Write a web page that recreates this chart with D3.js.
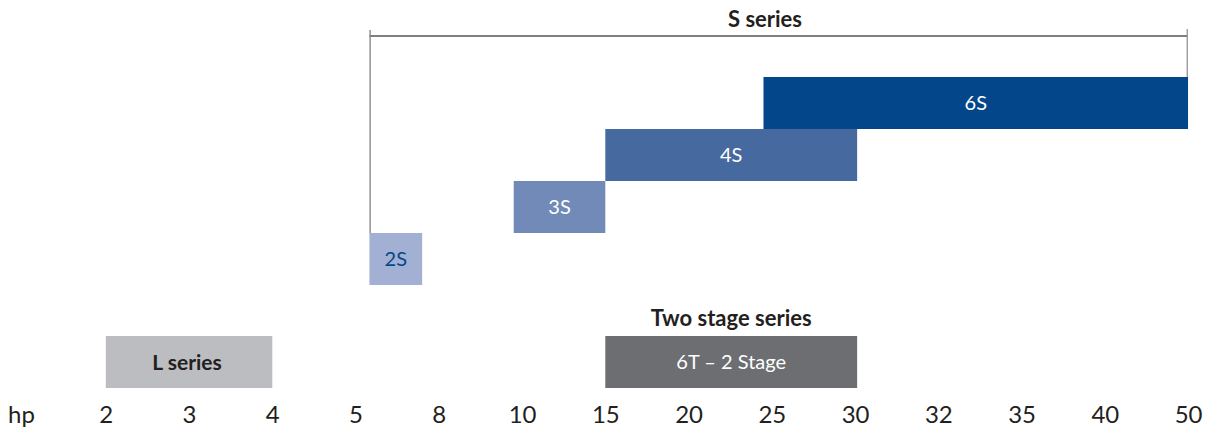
<!DOCTYPE html>
<html>
<head>
<meta charset="utf-8">
<script src="https://cdn.jsdelivr.net/npm/d3@7"></script>
<style>
  html, body { margin: 0; padding: 0; background: #fff; }
  svg { display: block; font-family: Lato, "Open Sans", sans-serif; }
</style>
</head>
<body>
<svg id="chart" width="1210" height="430"></svg>
<script>
// ---- data ----
const tickValues = [2, 3, 4, 5, 8, 10, 15, 20, 25, 30, 32, 35, 40, 50];
const axisUnit = "hp";

const sSeriesNames = ["6S", "4S", "3S", "2S"];
const sSeriesStart = [24.5, 15, 9.8, 5.5];
const sSeriesEnd   = [50, 30.05, 15, 7.4];
const sSeriesColors = ["#03478a", "#466aa0", "#718ab8", "#a2b1d3"];
const sSeriesTextColors = ["#ffffff", "#ffffff", "#ffffff", "#03478a"];

const sBracketTitle = "S series";
const sBracketRange = [5.5, 49.9];

const lowerNames = ["L series", "6T – 2 Stage"];
const lowerStart = [2, 15];
const lowerEnd = [4, 30.05];
const lowerColors = ["#bcbdc0", "#6d6e71"];
const lowerTextColors = ["#231f20", "#ffffff"];
const lowerBold = [true, false];
const lowerTitles = ["", "Two stage series"];

// ---- scales ----
const svg = d3.select("#chart");
const x0 = 105.8, step = 83.25;
const x = d3.scaleLinear()
  .domain(tickValues)
  .range(tickValues.map((d, i) => x0 + i * step));

const yRows = d3.scaleBand().domain(sSeriesNames).range([77, 285]).padding(0);
const yLower = 336, lowerH = 52;

// ---- S series bracket ----
const bracket = svg.append("g");
const bY = 36;
bracket.append("line")
  .attr("x1", x(sBracketRange[0])).attr("x2", x(sBracketRange[1]))
  .attr("y1", bY).attr("y2", bY)
  .attr("stroke", "#555558").attr("stroke-width", 1.3);
bracket.append("line")
  .attr("x1", x(sBracketRange[0]) + 0.7).attr("x2", x(sBracketRange[0]) + 0.7)
  .attr("y1", 30).attr("y2", yRows("2S"))
  .attr("stroke", "#8a8a8c").attr("stroke-width", 1.4);
bracket.append("line")
  .attr("x1", x(sBracketRange[1])).attr("x2", x(sBracketRange[1]))
  .attr("y1", 29).attr("y2", yRows("6S"))
  .attr("stroke", "#8a8a8c").attr("stroke-width", 1.2);
bracket.append("text")
  .attr("x", 765).attr("y", 27)
  .attr("text-anchor", "middle")
  .attr("font-size", 22).attr("font-weight", "bold")
  .attr("fill", "#231f20")
  .text(sBracketTitle);

// ---- S series bars ----
const sData = sSeriesNames.map((n, i) => ({
  name: n, start: sSeriesStart[i], end: sSeriesEnd[i],
  color: sSeriesColors[i], text: sSeriesTextColors[i]
}));
const sg = svg.append("g").selectAll("g").data(sData).join("g");
sg.append("rect")
  .attr("x", d => x(d.start))
  .attr("y", d => yRows(d.name))
  .attr("width", d => x(d.end) - x(d.start))
  .attr("height", yRows.bandwidth())
  .attr("fill", d => d.color);
sg.append("text")
  .attr("x", d => (x(d.start) + x(d.end)) / 2)
  .attr("y", d => yRows(d.name) + yRows.bandwidth() / 2)
  .attr("dy", "0.36em")
  .attr("text-anchor", "middle")
  .attr("font-size", 20)
  .attr("fill", d => d.text)
  .text(d => d.name);

// ---- lower bars ----
const lData = lowerNames.map((n, i) => ({
  name: n, start: lowerStart[i], end: lowerEnd[i], color: lowerColors[i],
  text: lowerTextColors[i], bold: lowerBold[i], title: lowerTitles[i]
}));
const lg = svg.append("g").selectAll("g").data(lData).join("g");
lg.append("rect")
  .attr("x", d => x(d.start))
  .attr("y", yLower)
  .attr("width", d => x(d.end) - x(d.start))
  .attr("height", lowerH)
  .attr("fill", d => d.color);
lg.append("text")
  .attr("x", d => (x(d.start) + x(d.end)) / 2 - (d.bold ? 2 : 0))
  .attr("y", yLower + lowerH / 2)
  .attr("dy", "0.36em")
  .attr("text-anchor", "middle")
  .attr("font-size", d => d.bold ? 21 : 20)
  .attr("font-weight", d => d.bold ? "bold" : "normal")
  .attr("fill", d => d.text)
  .text(d => d.name);
lg.filter(d => d.title).append("text")
  .attr("x", d => (x(d.start) + x(d.end)) / 2)
  .attr("y", 326)
  .attr("text-anchor", "middle")
  .attr("font-size", 22).attr("font-weight", "bold")
  .attr("fill", "#231f20")
  .text(d => d.title);

// ---- axis ----
const axis = d3.axisBottom(x).tickValues(tickValues).tickSize(0).tickPadding(0)
  .tickFormat(d3.format("d"));
const ag = svg.append("g").attr("transform", "translate(0,404)").call(axis);
ag.select(".domain").remove();
ag.selectAll("text")
  .attr("font-size", 24).attr("font-family", "Lato, 'Open Sans', sans-serif")
  .attr("fill", "#231f20").attr("dy", "0.78em");
svg.append("text")
  .attr("x", 8).attr("y", 423)
  .attr("font-size", 24).attr("fill", "#231f20")
  .text(axisUnit);
</script>
</body>
</html>
